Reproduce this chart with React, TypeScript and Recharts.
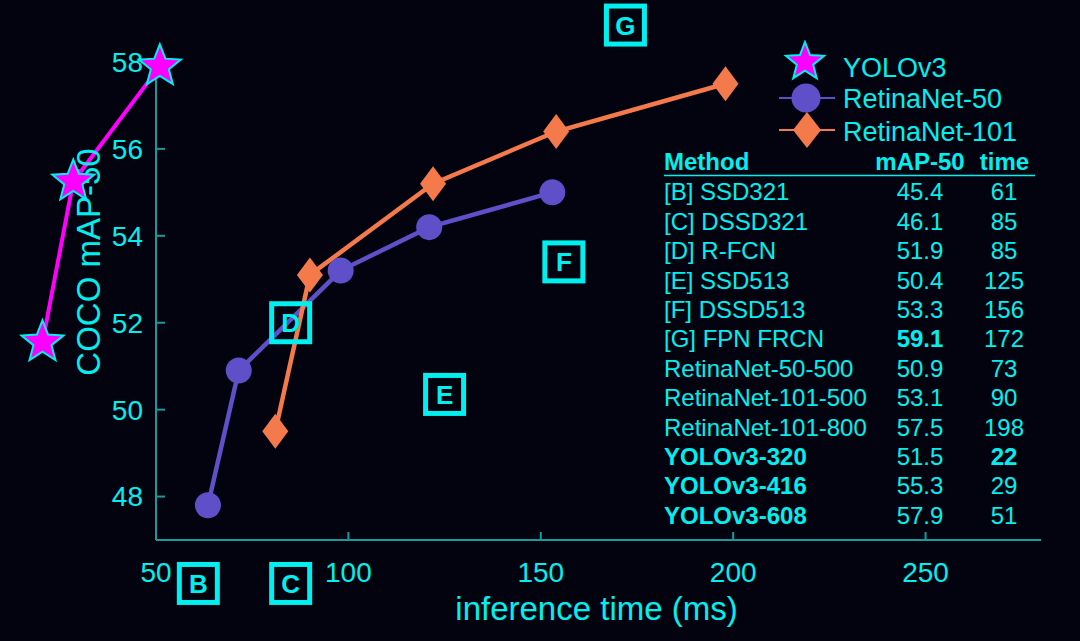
import React from "react";
import { ComposedChart, Line, XAxis, YAxis, ReferenceDot, ReferenceLine, Legend } from "recharts";

const FONT = '"Liberation Sans", Arial, Helvetica, sans-serif';
const BG = "#03030f";
const CYAN = "#00f0f0";
const AXIS = "#1a9a9a";
const PURPLE = "#5f4fc8";
const ORANGE = "#f47a4c";
const MAGENTA = "#ff00ff";

const xTicks = [50, 100, 150, 200, 250];
const yTicks = [48, 50, 52, 54, 56, 58];

// plotted positions
const yoloTime = [20.5, 28.5, 51];
const yoloMap = [51.55, 55.25, 57.9];

const r50Time = [63.5, 71.5, 98, 121, 153];
const r50Map = [47.8, 50.9, 53.2, 54.2, 55.0];

const r101Time = [81, 90, 122, 154, 198];
const r101Map = [49.5, 53.1, 55.2, 56.4, 57.5];

// lettered boxes for the other methods
const boxLetters = ["B", "C", "D", "E", "F", "G"];
const boxTime = [61, 85, 85, 125, 156, 172];
const boxMap = [46.0, 46.0, 52.0, 50.35, 53.4, 58.85];

const legendLabels = ["YOLOv3", "RetinaNet-50", "RetinaNet-101"];

const tableHeader = ["Method", "mAP-50", "time"];
const tableMethods = [
  "[B] SSD321", "[C] DSSD321", "[D] R-FCN", "[E] SSD513", "[F] DSSD513", "[G] FPN FRCN",
  "RetinaNet-50-500", "RetinaNet-101-500", "RetinaNet-101-800",
  "YOLOv3-320", "YOLOv3-416", "YOLOv3-608",
];
const tableMap = ["45.4", "46.1", "51.9", "50.4", "53.3", "59.1", "50.9", "53.1", "57.5", "51.5", "55.3", "57.9"];
const tableTime = ["61", "85", "85", "125", "156", "172", "73", "90", "198", "22", "29", "51"];
const boldMethod = [false, false, false, false, false, false, false, false, false, true, true, true];
const boldMap = [false, false, false, false, false, true, false, false, false, false, false, false];
const boldTime = [false, false, false, false, false, false, false, false, false, true, false, false];

const r50 = r50Time.map((t, i) => ({ time: t, map: r50Map[i] }));
const r101 = r101Time.map((t, i) => ({ time: t, map: r101Map[i] }));

function starPoints(cx: number, cy: number, R: number, r: number) {
  const pts: string[] = [];
  for (let i = 0; i < 10; i++) {
    const rad = i % 2 === 0 ? R : r;
    const a = -Math.PI / 2 + (i * Math.PI) / 5;
    pts.push(`${cx + rad * Math.cos(a)},${cy + rad * Math.sin(a)}`);
  }
  return pts.join(" ");
}

function diamond(cx: number, cy: number, w: number, h: number) {
  return `${cx},${cy - h / 2} ${cx + w / 2},${cy} ${cx},${cy + h / 2} ${cx - w / 2},${cy}`;
}

const StarShape = (props: any) => (
  <polygon points={starPoints(props.cx, props.cy, 22, 9.5)} fill={MAGENTA} stroke={CYAN} strokeWidth={2} />
);

const DiamondDot = (props: any) => (
  <polygon key={props.index} points={diamond(props.cx, props.cy, 26, 35)} fill={ORANGE} stroke="none" />
);

const boxShape = (letter: string) => (props: any) => (
  <g>
    <rect x={props.cx - 19} y={props.cy - 19} width={38} height={38} fill="none" stroke={CYAN} strokeWidth={5} />
    <text x={props.cx} y={props.cy + 9.5} textAnchor="middle" fontFamily={FONT} fontWeight="bold" fontSize={26} fill={CYAN}>
      {letter}
    </text>
  </g>
);

function LegendBox() {
  return (
    <svg width={280} height={110} style={{ display: "block" }}>
      <polygon points={starPoints(35, 22, 20, 8.6)} fill={MAGENTA} stroke={CYAN} strokeWidth={2} />
      <line x1={9} y1={58} x2={65} y2={58} stroke={PURPLE} strokeWidth={2} />
      <circle cx={36} cy={58} r={14.5} fill={PURPLE} />
      <line x1={9} y1={90} x2={65} y2={90} stroke={ORANGE} strokeWidth={2} />
      <polygon points={diamond(37, 90, 28, 36)} fill={ORANGE} />
      {legendLabels.map((l, i) => (
        <text key={l} x={73} y={[27, 58, 91][i] + 9.7} fontFamily={FONT} fontSize={27} fill={CYAN}>
          {l}
        </text>
      ))}
    </svg>
  );
}

function Table() {
  const rowY = (i: number) => 191.7 + i * 29.4 + 8.6;
  return (
    <svg width={1080} height={641} style={{ position: "absolute", left: 0, top: 0, pointerEvents: "none" }}>
      <g fontFamily={FONT} fontSize={24} fill={CYAN}>
        <text x={664} y={170.3} fontWeight="bold">{tableHeader[0]}</text>
        <text x={920} y={170.3} fontWeight="bold" textAnchor="middle">{tableHeader[1]}</text>
        <text x={1004.5} y={170.3} fontWeight="bold" textAnchor="middle">{tableHeader[2]}</text>
        <line x1={664} y1={175.5} x2={1035} y2={175.5} stroke={CYAN} strokeWidth={1.5} />
        {tableMethods.map((m, i) => (
          <g key={m}>
            <text x={664} y={rowY(i)} fontWeight={boldMethod[i] ? "bold" : "normal"}>{m}</text>
            <text x={920} y={rowY(i)} textAnchor="middle" fontWeight={boldMap[i] ? "bold" : "normal"}>{tableMap[i]}</text>
            <text x={1004} y={rowY(i)} textAnchor="middle" fontWeight={boldTime[i] ? "bold" : "normal"}>{tableTime[i]}</text>
          </g>
        ))}
      </g>
    </svg>
  );
}

export default function App() {
  const tickStyle = { fontSize: 28, fill: CYAN, fontFamily: FONT };
  return (
    <div style={{ position: "absolute", left: 0, top: 0, width: 1080, height: 641, background: BG, overflow: "hidden" }}>
      <ComposedChart width={1080} height={641} margin={{ top: 62, right: 39, left: 0, bottom: 31 }}>
        <XAxis
          type="number"
          dataKey="time"
          domain={[50, 280]}
          ticks={xTicks}
          stroke={AXIS}
          strokeWidth={2}
          tickSize={-8}
          tickMargin={30}
          tick={tickStyle}
          height={70}
          label={{
            content: (p: any) => (
              <text x={p.viewBox.x + p.viewBox.width / 2 - 2} y={p.viewBox.y + 80} textAnchor="middle" fontFamily={FONT} fontSize={33} fill={CYAN}>
                inference time (ms)
              </text>
            ),
          }}
        />
        <YAxis
          type="number"
          domain={[47, 58]}
          ticks={yTicks}
          stroke={AXIS}
          strokeWidth={2}
          tickSize={-9}
          tickMargin={22}
          tick={tickStyle}
          width={156}
          label={{
            content: (p: any) => (
              <text
                x={100}
                y={p.viewBox.y + 200}
                transform={`rotate(-90, 100, ${p.viewBox.y + 200})`}
                textAnchor="middle"
                fontFamily={FONT}
                fontSize={33}
                fill={CYAN}
              >
                COCO mAP-50
              </text>
            ),
          }}
        />
        {boxLetters.map((l, i) => (
          <ReferenceDot key={l} x={boxTime[i]} y={boxMap[i]} ifOverflow="visible" shape={boxShape(l)} />
        ))}
        <Line
          data={r50}
          dataKey="map"
          stroke={PURPLE}
          strokeWidth={4.5}
          dot={{ r: 13, fill: PURPLE, stroke: PURPLE, strokeWidth: 0 }}
          isAnimationActive={false}
        />
        <Line
          data={r101}
          dataKey="map"
          stroke={ORANGE}
          strokeWidth={4.5}
          dot={DiamondDot}
          isAnimationActive={false}
        />
        {yoloTime.slice(1).map((t, i) => (
          <ReferenceLine
            key={`seg${i}`}
            segment={[
              { x: yoloTime[i], y: yoloMap[i] },
              { x: t, y: yoloMap[i + 1] },
            ]}
            stroke={MAGENTA}
            strokeWidth={4}
            ifOverflow="visible"
          />
        ))}
        {yoloTime.map((t, i) => (
          <ReferenceDot key={`star${i}`} x={t} y={yoloMap[i]} ifOverflow="visible" shape={StarShape} />
        ))}
        <Legend
          layout="vertical"
          align="center"
          verticalAlign="middle"
          wrapperStyle={{ position: "absolute", top: 40, left: 770, width: 280, height: 110 }}
          content={() => <LegendBox />}
        />
      </ComposedChart>
      <Table />
    </div>
  );
}
